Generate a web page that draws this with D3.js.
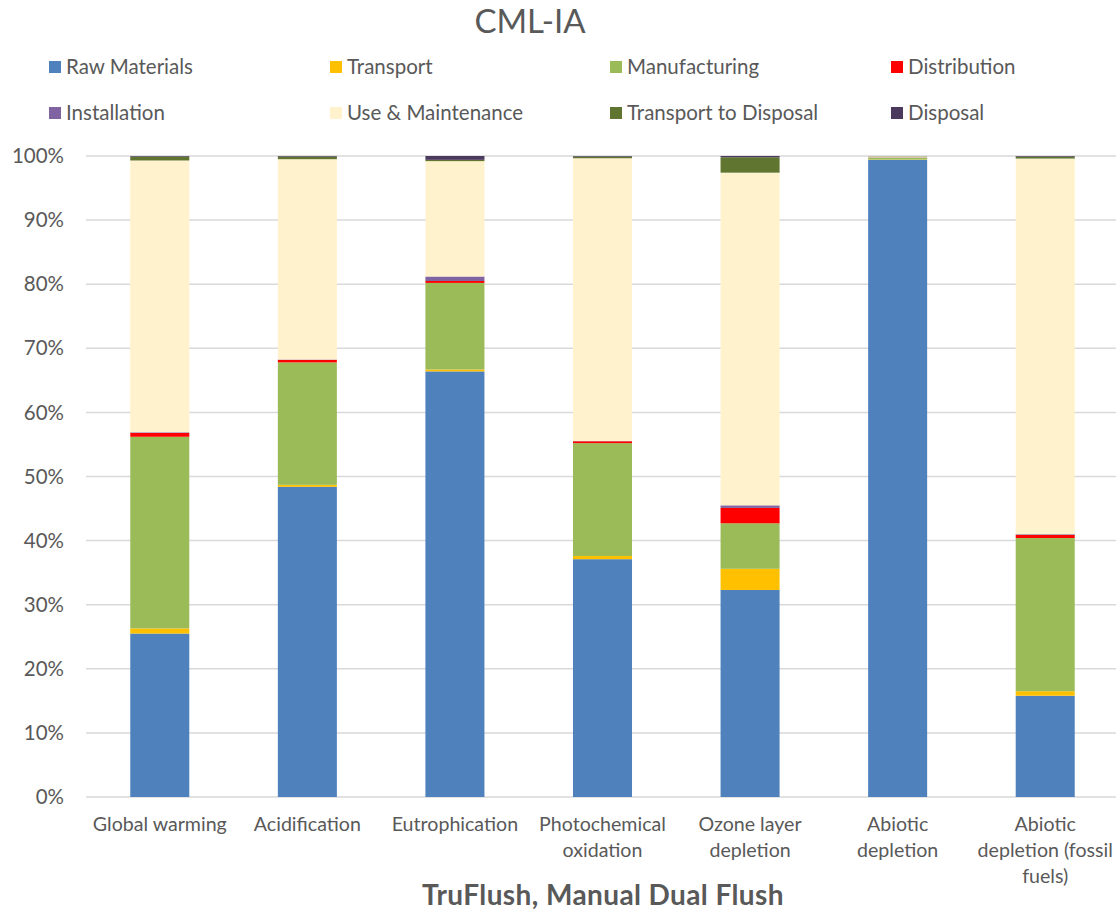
<!DOCTYPE html>
<html>
<head>
<meta charset="utf-8">
<script src="https://cdn.jsdelivr.net/npm/d3@7"></script>
<style>
	body { margin: 0; background: #ffffff; }
	text { font-family: Lato, "Open Sans", sans-serif; fill: #595959; }
</style>
</head>
<body>
<svg id="chart" width="1116" height="915"></svg>
<script>
/* categories and the wrapped tick labels */
var categories = ["Global warming", "Acidification", "Eutrophication", "Photochemical oxidation",
                  "Ozone layer depletion", "Abiotic depletion", "Abiotic depletion (fossil fuels)"];
var tick_Lines = [["Global warming"], ["Acidification"], ["Eutrophication"], ["Photochemical", "oxidation"],
                  ["Ozone layer", "depletion"], ["Abiotic", "depletion"], ["Abiotic", "depletion (fossil", "fuels)"]];

/* series names + colours */
var series_Names = ["Raw Materials", "Transport", "Manufacturing", "Distribution",
                    "Installation", "Use & Maintenance", "Transport to Disposal", "Disposal"];
var series_Colours = ["#4F81BD", "#FFC000", "#9BBB59", "#FF0000", "#8064A2", "#FFF2CC", "#5F7530", "#4B3A5E"];

/* share of each stage, % (one array per stage, in category order) */
var raw_Materials   = [25.5, 48.4, 66.4, 37.1, 32.3, 99.4, 15.8];
var transport       = [0.8, 0.3, 0.3, 0.5, 3.3, 0.05, 0.7];
var manufacturing   = [29.9, 19.1, 13.5, 17.6, 7.1, 0.3, 23.9];
var distribution    = [0.6, 0.4, 0.3, 0.3, 2.4, 0.02, 0.5];
var installation    = [0.1, 0.05, 0.7, 0.03, 0.4, 0.03, 0.1];
var use_Maintenance = [42.4, 31.25, 18.0, 44.12, 51.9, 0.15, 58.6];
var transport_Disp  = [0.6, 0.4, 0.2, 0.25, 2.4, 0.03, 0.3];
var disposal        = [0.1, 0.1, 0.6, 0.1, 0.2, 0.02, 0.1];

var y_Ticks = [0, 10, 20, 30, 40, 50, 60, 70, 80, 90, 100];

var all_Series = [raw_Materials, transport, manufacturing, distribution,
                  installation, use_Maintenance, transport_Disp, disposal];

/* build rows for d3.stack */
var rows = categories.map(function(c, i){
	var row = { category: c };
	series_Names.forEach(function(s, k){ row[s] = all_Series[k][i]; });
	return row;
});

var stacked = d3.stack().keys(series_Names)(rows);

var svg = d3.select("#chart");

var x = d3.scaleBand().domain(categories).range([86, 1119]).paddingInner(0.6).paddingOuter(0.3);
var y = d3.scaleLinear().domain([0, 100]).range([797, 156]);

/* gridlines */
svg.append("g").selectAll("line").data(y_Ticks).enter().append("line")
	.attr("x1", 86).attr("x2", 1116)
	.attr("y1", function(d){ return y(d); })
	.attr("y2", function(d){ return y(d); })
	.attr("stroke", "#D9D9D9")
	.attr("stroke-width", 1.5);

/* y axis labels */
svg.append("g").selectAll("text").data(y_Ticks).enter().append("text")
	.attr("x", 64)
	.attr("y", function(d){ return y(d); })
	.attr("dy", "0.35em")
	.attr("text-anchor", "end")
	.attr("font-size", 20.5)
	.text(function(d){ return d + "%"; });

/* bars */
svg.append("g").selectAll("g").data(stacked).enter().append("g")
	.attr("fill", function(d, k){ return series_Colours[k]; })
	.selectAll("rect").data(function(d){ return d; }).enter().append("rect")
	.attr("x", function(d){ return x(d.data.category); })
	.attr("width", x.bandwidth())
	.attr("y", function(d){ return y(d[1]); })
	.attr("height", function(d){ return y(d[0]) - y(d[1]); });

/* x tick labels */
var ticks = svg.append("g").selectAll("text").data(categories).enter().append("text")
	.attr("text-anchor", "middle")
	.attr("font-size", 19.6)
	.attr("y", 831);

ticks.each(function(c, i){
	var t = d3.select(this);
	tick_Lines[i].forEach(function(line, j){
		t.append("tspan")
			.attr("x", x(c) + x.bandwidth() / 2)
			.attr("dy", j == 0 ? 0 : 26)
			.text(line);
	});
});

/* title + axis title */
svg.append("text").attr("x", 530).attr("y", 33).attr("text-anchor", "middle")
	.attr("font-size", 33).text("CML-IA");

svg.append("text").attr("x", 603).attr("y", 905).attr("text-anchor", "middle")
	.attr("font-size", 28).attr("font-weight", "bold").attr("letter-spacing", 0.4)
	.text("TruFlush, Manual Dual Flush");

/* legend, 4 columns x 2 rows */
var legend_X = [49, 330, 610, 891];
var legend = svg.append("g").selectAll("g").data(series_Names).enter().append("g")
	.attr("transform", function(d, k){ return "translate(" + legend_X[k % 4] + "," + (k < 4 ? 67 : 113) + ")"; });

legend.append("rect")
	.attr("x", 0).attr("y", -6)
	.attr("width", 12).attr("height", 12)
	.attr("fill", function(d, k){ return series_Colours[k]; });

legend.append("text")
	.attr("x", 17).attr("dy", "0.35em")
	.attr("font-size", 20.5)
	.text(function(d){ return d; });
</script>
</body>
</html>
